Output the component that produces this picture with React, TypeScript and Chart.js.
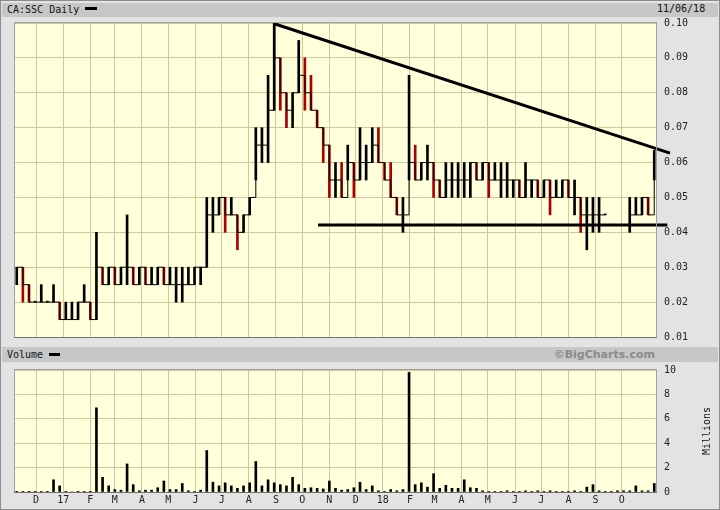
import React, { useEffect, useRef } from "react";
import { Chart, registerables } from "chart.js";
Chart.register(...registerables);

// ---------- DATA ----------
const weeks = [
  "2016-11-07","2016-11-14","2016-11-21","2016-11-28","2016-12-05","2016-12-12","2016-12-19","2016-12-26",
  "2017-01-02","2017-01-09","2017-01-16","2017-01-23","2017-01-30","2017-02-06","2017-02-13","2017-02-20","2017-02-27",
  "2017-03-06","2017-03-13","2017-03-20","2017-03-27","2017-04-03","2017-04-10","2017-04-17","2017-04-24",
  "2017-05-01","2017-05-08","2017-05-15","2017-05-22","2017-05-29","2017-06-05","2017-06-12","2017-06-19","2017-06-26",
  "2017-07-03","2017-07-10","2017-07-17","2017-07-24","2017-07-31","2017-08-07","2017-08-14","2017-08-21","2017-08-28",
  "2017-09-04","2017-09-11","2017-09-18","2017-09-25","2017-10-02","2017-10-09","2017-10-16","2017-10-23","2017-10-30",
  "2017-11-06","2017-11-13","2017-11-20","2017-11-27","2017-12-04","2017-12-11","2017-12-18","2017-12-25",
  "2018-01-01","2018-01-08","2018-01-15","2018-01-22","2018-01-29","2018-02-05","2018-02-12","2018-02-19","2018-02-26",
  "2018-03-05","2018-03-12","2018-03-19","2018-03-26","2018-04-02","2018-04-09","2018-04-16","2018-04-23","2018-04-30",
  "2018-05-07","2018-05-14","2018-05-21","2018-05-28","2018-06-04","2018-06-11","2018-06-18","2018-06-25",
  "2018-07-02","2018-07-09","2018-07-16","2018-07-23","2018-07-30","2018-08-06","2018-08-13","2018-08-20","2018-08-27",
  "2018-09-03","2018-09-10","2018-09-17","2018-09-24","2018-10-01","2018-10-08","2018-10-15","2018-10-22","2018-10-29",
  "2018-11-05"
];

const highs: (number | null)[] = [
  0.03,0.03,0.025,0.02,0.025,0.02,0.025,0.02,
  0.02,0.02,0.02,0.025,0.02,0.04,0.03,0.03,0.03,
  0.03,0.045,0.03,0.03,0.03,0.03,0.03,0.03,
  0.03,0.03,0.03,0.03,0.03,0.03,0.05,0.05,0.05,
  0.05,0.05,0.045,0.045,0.05,0.07,0.07,0.085,0.10,
  0.09,0.08,0.08,0.095,0.09,0.085,0.075,0.07,0.065,
  0.06,0.06,0.065,0.06,0.07,0.065,0.07,0.07,
  0.06,0.06,0.05,0.05,0.085,0.065,0.06,0.065,0.06,
  0.055,0.06,0.06,0.06,0.06,0.06,0.06,0.06,0.06,
  0.06,0.06,0.06,0.055,0.055,0.06,0.055,0.055,
  0.055,0.055,0.055,0.055,0.055,0.055,0.05,0.05,0.05,
  0.05,0.045,null,null,null,0.05,0.05,0.05,0.05,
  0.0635
];

const lows: (number | null)[] = [
  0.025,0.02,0.02,0.02,0.02,0.02,0.02,0.015,
  0.015,0.015,0.015,0.02,0.015,0.015,0.025,0.025,0.025,
  0.025,0.025,0.025,0.025,0.025,0.025,0.025,0.025,
  0.025,0.02,0.02,0.025,0.025,0.025,0.03,0.04,0.045,
  0.04,0.045,0.035,0.04,0.045,0.055,0.06,0.06,0.075,
  0.075,0.07,0.07,0.08,0.075,0.075,0.07,0.06,0.05,
  0.05,0.05,0.055,0.05,0.055,0.055,0.06,0.06,
  0.055,0.05,0.045,0.04,0.055,0.055,0.055,0.055,0.05,
  0.05,0.05,0.05,0.05,0.05,0.05,0.055,0.055,0.05,
  0.055,0.05,0.05,0.05,0.05,0.05,0.05,0.05,
  0.05,0.045,0.05,0.05,0.05,0.045,0.04,0.035,0.04,
  0.04,0.045,null,null,null,0.04,0.045,0.045,0.045,
  0.055
];

const closes: (number | null)[] = [
  0.03,0.025,0.02,0.02,0.02,0.02,0.02,0.015,
  0.015,0.015,0.02,0.02,0.015,0.03,0.025,0.03,0.025,
  0.03,0.03,0.025,0.03,0.025,0.025,0.03,0.025,
  0.025,0.025,0.025,0.025,0.03,0.03,0.045,0.045,0.05,
  0.045,0.045,0.04,0.045,0.05,0.065,0.065,0.075,0.09,
  0.08,0.075,0.08,0.085,0.08,0.075,0.07,0.065,0.055,
  0.055,0.05,0.06,0.055,0.06,0.06,0.065,0.06,
  0.055,0.05,0.045,0.045,0.06,0.055,0.06,0.06,0.055,
  0.05,0.055,0.055,0.055,0.055,0.06,0.055,0.06,0.055,
  0.055,0.055,0.055,0.055,0.05,0.055,0.055,0.05,
  0.055,0.05,0.05,0.055,0.05,0.05,0.045,0.045,0.045,
  0.045,0.045,null,null,null,0.045,0.045,0.05,0.045,
  0.06
];

// volume in millions
const volumes = [
  0.02,0.05,0.02,0.02,0.03,0.02,1.0,0.5,
  0.02,0.0,0.02,0.02,0.02,6.9,1.2,0.5,0.2,
  0.15,2.3,0.6,0.1,0.15,0.15,0.35,0.9,
  0.2,0.2,0.7,0.1,0.05,0.15,3.4,0.8,0.5,
  0.75,0.5,0.3,0.5,0.75,2.5,0.5,1.0,0.75,
  0.6,0.5,1.2,0.6,0.3,0.35,0.3,0.25,0.9,
  0.3,0.15,0.2,0.35,0.8,0.2,0.5,0.1,
  0.05,0.2,0.1,0.2,9.8,0.6,0.75,0.4,1.5,
  0.3,0.55,0.3,0.3,1.0,0.35,0.3,0.1,0.05,
  0.05,0.05,0.1,0.05,0.05,0.1,0.05,0.1,
  0.05,0.1,0.05,0.05,0.05,0.1,0.05,0.4,0.6,
  0.1,0.05,0.05,0.1,0.1,0.1,0.5,0.1,0.1,
  0.7
];

const monthStarts = [
  "2016-12-01","2017-01-01","2017-02-01","2017-03-01","2017-04-01","2017-05-01","2017-06-01",
  "2017-07-01","2017-08-01","2017-09-01","2017-10-01","2017-11-01","2017-12-01","2018-01-01",
  "2018-02-01","2018-03-01","2018-04-01","2018-05-01","2018-06-01","2018-07-01","2018-08-01",
  "2018-09-01","2018-10-01"
];
const monthLabels = ["D","17","F","M","A","M","J","J","A","S","O","N","D","18","F","M","A","M","J","J","A","S","O"];
const priceTicks = [0.01,0.02,0.03,0.04,0.05,0.06,0.07,0.08,0.09,0.10];
const volumeTicks = [0,2,4,6,8,10];

const resistanceDates = ["2017-08-31","2018-11-25"];
const resistancePrices = [0.0997, 0.0627];
const supportDates = ["2017-10-19","2018-11-22"];
const supportPrices = [0.0421, 0.0421];

const axisStart = "2016-11-07";
const axisEnd = "2018-11-09";

// ---------- HELPERS ----------
const toUTC = (s: string) => { const [y, m, d] = s.split("-").map(Number); return Date.UTC(y, m - 1, d); };
const ORIGIN = toUTC(axisStart);
const dayOf = (s: string) => (toUTC(s) - ORIGIN) / 86400000;
const X_MAX = dayOf(axisEnd);
const monthDays = monthStarts.map(dayOf);

const GRID = "#cdc99c";
const PLOT_BG = "#ffffdc";
const RED = "#aa0000";
const FONT = { family: '"DejaVu Sans Mono", monospace', size: 10 };

const plotPlugin = {
  id: "plotPlugin",
  beforeDraw(chart: any) {
    const { ctx, chartArea: a } = chart;
    ctx.save();
    ctx.fillStyle = PLOT_BG;
    ctx.fillRect(a.left, a.top, a.right - a.left, a.bottom - a.top);
    ctx.restore();
  },
  afterDraw(chart: any) {
    const { ctx, chartArea: a } = chart;
    ctx.save();
    ctx.strokeStyle = "#a0a0a0";
    ctx.lineWidth = 1;
    ctx.strokeRect(a.left - 0.5, a.top - 0.5, a.right - a.left + 1, a.bottom - a.top + 1);
    ctx.strokeStyle = "#707070";
    ctx.beginPath();
    ctx.moveTo(a.left - 1, a.bottom + 0.5);
    ctx.lineTo(a.right + 1, a.bottom + 0.5);
    ctx.stroke();
    ctx.restore();
  },
};

function xScale(showLabels: boolean, height: number) {
  return {
    type: "linear",
    min: 0,
    max: X_MAX,
    offset: false,
    afterBuildTicks: (s: any) => { s.ticks = monthDays.map((v) => ({ value: v })); },
    afterFit: (s: any) => { s.height = height; },
    ticks: {
      display: showLabels,
      autoSkip: false,
      maxRotation: 0,
      padding: 2,
      color: "#222",
      font: FONT,
      callback: (_v: any, i: number) => monthLabels[i],
    },
    grid: { color: GRID, drawTicks: false, lineWidth: 1, offset: false },
    border: { display: false },
  };
}

export default function App() {
  const priceRef = useRef<HTMLCanvasElement | null>(null);
  const volRef = useRef<HTMLCanvasElement | null>(null);

  useEffect(() => {
    document.body.style.margin = "0";
    const barPoints: any[] = [];
    const barColors: string[] = [];
    const closePoints: any[] = [];
    let prev: number | null = null;
    weeks.forEach((w, i) => {
      const x = dayOf(w) + 2;
      const h = highs[i], l = lows[i], c = closes[i];
      if (h != null && l != null && c != null) {
        barPoints.push({ x, y: [l, h] });
        barColors.push(prev != null && c < prev ? RED : "#000");
        prev = c;
      }
      closePoints.push({ x, y: c });
    });

    const price = new Chart(priceRef.current!, {
      type: "bar",
      data: {
        datasets: [
          {
            type: "line",
            data: resistanceDates.map((d, i) => ({ x: dayOf(d), y: resistancePrices[i] })),
            borderColor: "#000",
            borderWidth: 3,
            pointRadius: 0,
            clip: false,
            order: 0,
          } as any,
          {
            type: "line",
            data: supportDates.map((d, i) => ({ x: dayOf(d), y: supportPrices[i] })),
            borderColor: "#000",
            borderWidth: 3,
            pointRadius: 0,
            clip: false,
            order: 0,
          } as any,
          {
            type: "line",
            data: closePoints,
            borderColor: "#000",
            borderWidth: 1,
            pointRadius: 0,
            stepped: "before",
            spanGaps: false,
            order: 2,
          } as any,
          {
            type: "bar",
            data: barPoints,
            backgroundColor: barColors,
            barThickness: 2,
            minBarLength: 1,
            grouped: false,
            order: 3,
          } as any,
        ],
      },
      options: {
        animation: false,
        responsive: false,
        events: [],
        layout: { padding: { left: 15, top: 23, right: 0, bottom: 0 } },
        plugins: { legend: { display: false }, tooltip: { enabled: false } },
        scales: {
          x: xScale(false, 10) as any,
          y: {
            position: "right",
            min: 0.01,
            max: 0.1,
            afterBuildTicks: (s: any) => { s.ticks = priceTicks.map((v) => ({ value: v })); },
            afterFit: (s: any) => { s.width = 64; },
            ticks: { padding: 8, color: "#222", font: FONT, callback: (v: any) => Number(v).toFixed(2) },
            grid: { color: GRID, drawTicks: false },
            border: { display: false },
          },
        },
      },
      plugins: [plotPlugin],
    });

    const vol = new Chart(volRef.current!, {
      type: "bar",
      data: {
        datasets: [
          {
            data: weeks.map((w, i) => ({ x: dayOf(w) + 2, y: volumes[i] })),
            backgroundColor: "#000",
            barThickness: 2,
          } as any,
        ],
      },
      options: {
        animation: false,
        responsive: false,
        events: [],
        layout: { padding: { left: 15, top: 23, right: 0, bottom: 0 } },
        plugins: { legend: { display: false }, tooltip: { enabled: false } },
        scales: {
          x: xScale(true, 19) as any,
          y: {
            position: "right",
            min: 0,
            max: 10,
            afterBuildTicks: (s: any) => { s.ticks = volumeTicks.map((v) => ({ value: v })); },
            afterFit: (s: any) => { s.width = 64; },
            ticks: { padding: 8, color: "#222", font: FONT, callback: (v: any) => String(v) },
            grid: { color: GRID, drawTicks: false },
            border: { display: false },
          },
        },
      },
      plugins: [plotPlugin],
    });

    return () => { price.destroy(); vol.destroy(); };
  }, []);

  const mono = '"DejaVu Sans Mono", monospace';
  const abs = (s: any) => ({ position: "absolute" as const, ...s });

  return (
    <div style={{ position: "relative", width: 720, height: 510, background: "#e3e3e3", overflow: "hidden", fontFamily: mono, fontSize: 10, color: "#111" }}>
      <div style={abs({ left: 2, top: 3, width: 716, height: 14, background: "#c7c7c7" })} />
      <div style={abs({ left: 7, top: 3, height: 14, lineHeight: "14px", whiteSpace: "nowrap" })}>CA:SSC Daily</div>
      <div style={abs({ left: 85, top: 7, width: 12, height: 3, background: "#000" })} />
      <div style={abs({ left: 657, top: 2, height: 14, lineHeight: "14px", whiteSpace: "nowrap" })}>11/06/18</div>

      <div style={abs({ left: 2, top: 347, width: 716, height: 15, background: "#c7c7c7" })} />
      <div style={abs({ left: 7, top: 347, height: 15, lineHeight: "15px", whiteSpace: "nowrap" })}>Volume</div>
      <div style={abs({ left: 49, top: 353, width: 11, height: 3, background: "#000" })} />
      <div style={abs({ right: 65, top: 347, height: 15, lineHeight: "15px", whiteSpace: "nowrap", fontFamily: '"DejaVu Sans", sans-serif', fontWeight: "bold", fontSize: 11, color: "#8a8a8a" })}>©BigCharts.com</div>

      <canvas ref={priceRef} width={720} height={351} style={abs({ left: 0, top: 0, width: 720, height: 351 })} />
      <canvas ref={volRef} width={720} height={164} style={abs({ left: 0, top: 347, width: 720, height: 164 })} />

      <div style={abs({ left: 706, top: 431, transform: "translate(-50%, -50%) rotate(-90deg)", whiteSpace: "nowrap" })}>Millions</div>
      <div style={abs({ left: 0, top: 0, width: 720, height: 510, boxSizing: "border-box", border: "1px solid #8c8c8c", pointerEvents: "none" })} />
    </div>
  );
}
